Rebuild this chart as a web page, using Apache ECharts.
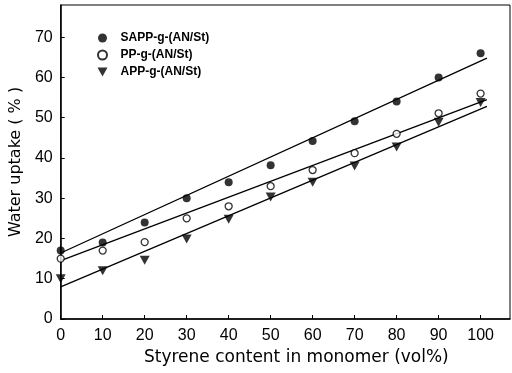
<!DOCTYPE html>
<html>
<head>
<meta charset="utf-8">
<script src="https://cdn.jsdelivr.net/npm/echarts@6/dist/echarts.min.js"></script>
<style>html,body{margin:0;padding:0;background:#fff}#c{width:512px;height:373px}</style>
</head>
<body>
<div id="c"></div>
<script>
var styrene = [0, 10, 20, 30, 40, 50, 60, 70, 80, 90, 100];
var sapp = [17, 19, 24, 30, 34, 38.2, 44.2, 49.1, 54, 60, 66];
var pp = [15, 17, 19.1, 25, 28, 33, 37, 41.2, 46, 51.1, 56];
var app = [10, 12, 14.6, 19.9, 24.8, 30.3, 34, 38, 42.7, 48.9, 53.8];
var fitX = [0, 101.5];
var sappFit = [16.4, 64.8];
var ppFit = [14.5, 54.5];
var appFit = [8.0, 52.8];
var names = ['SAPP-g-(AN/St)', 'PP-g-(AN/St)', 'APP-g-(AN/St)'];
var xTicks = [0, 10, 20, 30, 40, 50, 60, 70, 80, 90, 100];
var yTicks = [0, 10, 20, 30, 40, 50, 60, 70];

function pairs(xs, ys) { return xs.map(function (x, i) { return [x, ys[i]]; }); }
var tri = 'path://M0,0 L10,0 L5,9 Z';
var font = 'Liberation Sans, Arial, sans-serif';
var nameFont = 'DejaVu Sans, sans-serif';

var chart = echarts.init(document.getElementById('c'));
function fitSeries(ys) {
  return { type: 'line', data: pairs(fitX, ys), symbol: 'none', silent: true,
    lineStyle: { color: '#000', width: 1.3 }, z: 1 };
}
chart.setOption({
  animation: false,
  backgroundColor: '#fff',
  grid: { left: 60, right: 2, top: 5, bottom: 54, show: true, borderColor: '#000', borderWidth: 1 },
  legend: {
    data: names, orient: 'vertical', left: 92, top: 27, itemGap: 5,
    itemWidth: 10, itemHeight: 9,
    textStyle: { fontFamily: font, fontSize: 12, fontWeight: 'bold', color: '#000', padding: [0, 0, 0, 8] }
  },
  xAxis: {
    type: 'value', min: 0, max: 107,
    name: 'Styrene content in monomer (vol%)', nameLocation: 'middle', nameGap: 22,
    nameTextStyle: { fontFamily: nameFont, fontSize: 17, color: '#000', padding: [0, 0, 0, 22] },
    axisLine: { lineStyle: { color: '#000', width: 1.5 } },
    axisTick: { inside: true, length: 4, lineStyle: { color: '#000' }, customValues: xTicks },
    axisLabel: { fontFamily: font, fontSize: 16, color: '#000', margin: 9, customValues: xTicks },
    splitLine: { show: false }
  },
  yAxis: {
    type: 'value', min: 0, max: 78,
    name: 'Water uptake ( % )', nameLocation: 'middle', nameGap: 33, nameRotate: 90,
    nameTextStyle: { fontFamily: nameFont, fontSize: 16, color: '#000' },
    axisLine: { show: true, lineStyle: { color: '#000', width: 1.5 } },
    axisTick: { show: true, inside: true, length: 4, lineStyle: { color: '#000' }, customValues: yTicks },
    axisLabel: { fontFamily: font, fontSize: 16, color: '#000', margin: 8, customValues: yTicks },
    splitLine: { show: false }
  },
  series: [
    fitSeries(sappFit), fitSeries(ppFit), fitSeries(appFit),
    { name: names[0], type: 'scatter', data: pairs(styrene, sapp), symbol: 'circle', symbolSize: 8,
      itemStyle: { color: '#000' }, z: 3 },
    { name: names[1], type: 'scatter', data: pairs(styrene, pp), symbol: 'circle', symbolSize: 7,
      itemStyle: { color: '#fff', borderColor: '#000', borderWidth: 1.3 }, z: 3 },
    { name: names[2], type: 'scatter', data: pairs(styrene, app), symbol: tri, symbolSize: [10, 9],
      itemStyle: { color: '#000' }, z: 3 }
  ]
});
</script>
</body>
</html>
